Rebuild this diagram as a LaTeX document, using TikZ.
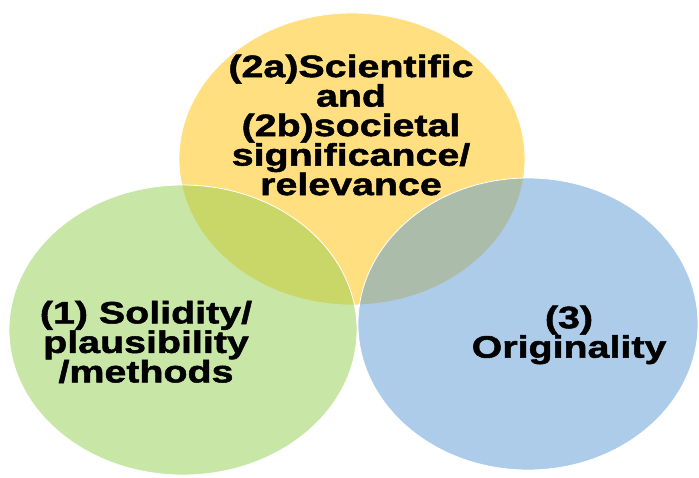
\documentclass[tikz,border=0pt]{standalone}
\usepackage{fontspec}
\newfontfamily\lab{Liberation Sans}[FakeStretch=1.27, FakeBold=1.6]
\definecolor{cgold}{RGB}{255,192,0}
\definecolor{cgreen}{RGB}{146,208,80}
\definecolor{cblue}{RGB}{91,155,213}
\tikzset{
  venn/.style={draw=white, line width=0.8pt, fill opacity=0.5},
  vlabel/.style={align=center, inner sep=0pt, text=black,
    font=\lab\bfseries\fontsize{31}{29.5}\selectfont}
}
\begin{document}
\begin{tikzpicture}[x=1pt,y=-1pt]
\useasboundingbox (0,0) rectangle (699,477);
\fill[white] (0,0) rectangle (699,477);
\begin{scope}
\clip (0,0) rectangle (699,477);
\path[venn, fill=cgold] (352,159) ellipse [x radius=173pt, y radius=146pt];
\path[venn, fill=cgreen] (183,330) ellipse [x radius=174pt, y radius=145pt];
\path[venn, fill=cblue] (528,324) ellipse [x radius=170pt, y radius=146pt];
\end{scope}
\node[vlabel] (sig) at (351,125) {(2a)Scientific\\and\\(2b)societal\\significance/\\relevance};
\node[vlabel] (sol) at (146,342) {(1) Solidity/\\plausibility\\/methods};
\node[vlabel] (ori) at (569,335) {(3)\\Originality};
\end{tikzpicture}
\end{document}
